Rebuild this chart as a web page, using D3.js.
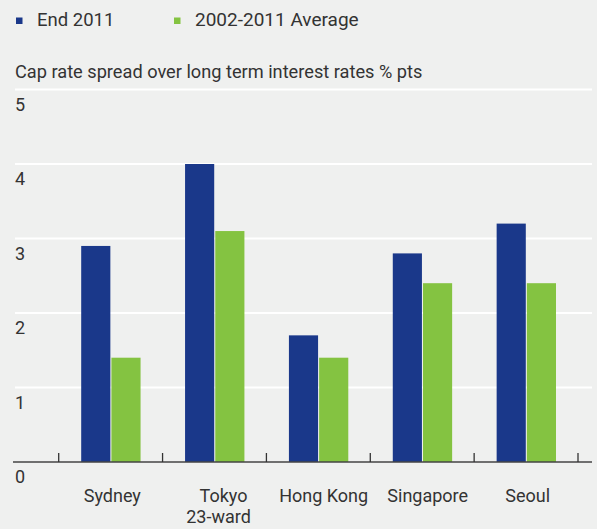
<!DOCTYPE html>
<html>
<head>
<meta charset="utf-8">
<script src="https://cdn.jsdelivr.net/npm/d3@7"></script>
<style>
  html, body { margin: 0; padding: 0; background: #eff0ef; }
  svg { display: block; }
  text { font-family: Roboto, "DejaVu Sans", sans-serif; fill: #333; }
</style>
</head>
<body>
<svg id="chart" width="597" height="529"></svg>
<script>
// Cap rate spread over long term interest rates, % pts
const cities = ["Sydney", "Tokyo\n23-ward", "Hong Kong", "Singapore", "Seoul"];
const end2011 = [2.9, 4.0, 1.7, 2.8, 3.2];
const avg2002to2011 = [1.4, 3.1, 1.4, 2.4, 2.4];
const seriesNames = ["End 2011", "2002-2011 Average"];
const seriesColors = ["#1a388a", "#84c341"];
const yTicks = [0, 1, 2, 3, 4, 5];

const svg = d3.select("#chart");

const left = 15, right = 592;
const y = d3.scaleLinear().domain([0, 5]).range([462, 89.5]);
const x = d3.scaleBand().domain(cities).range([58.7, 578]).paddingInner(0).paddingOuter(0);
const inner = d3.scaleBand().domain([0, 1]).range([22.5, x.bandwidth() - 22]).paddingInner(0.035);

// Legend
const legend = svg.append("g");
[0, 1].forEach(i => {
  const lx = [16, 174][i];
  legend.append("rect").attr("x", lx).attr("y", 17.5).attr("width", 6.5).attr("height", 6.5)
    .attr("fill", seriesColors[i]);
  legend.append("text").attr("x", lx + 21).attr("y", 26)
    .style("font-size", i === 0 ? "18.5px" : "19px").text(seriesNames[i]);
});

// Axis title
svg.append("text").attr("x", left).attr("y", 78)
  .style("font-size", "18.2px")
  .text("Cap rate spread over long term interest rates % pts");

// Horizontal gridlines; each value label sits just below its line
const grid = svg.append("g");
yTicks.filter(t => t > 0).forEach(t => {
  grid.append("line").attr("x1", left).attr("x2", right)
    .attr("y1", y(t)).attr("y2", y(t))
    .attr("stroke", "#ffffff").attr("stroke-width", 2);
});
yTicks.forEach(t => {
  svg.append("text").attr("x", left).attr("y", y(t) + 21)
    .style("font-size", "18px").text(t);
});

// Bars
const seriesData = [end2011, avg2002to2011];
seriesData.forEach((vals, si) => {
  svg.append("g").selectAll("rect").data(cities).join("rect")
    .attr("x", d => x(d) + inner(si))
    .attr("width", inner.bandwidth())
    .attr("y", (d, i) => y(vals[i]))
    .attr("height", (d, i) => y(0) - y(vals[i]))
    .attr("fill", seriesColors[si]);
});

// Baseline with category separator ticks
svg.append("line").attr("x1", 13).attr("x2", right)
  .attr("y1", y(0)).attr("y2", y(0))
  .attr("stroke", "#444").attr("stroke-width", 1.3);
const tickPos = cities.map(c => x(c)).concat([x.range()[1]]);
svg.append("g").selectAll("line").data(tickPos).join("line")
  .attr("x1", d => d).attr("x2", d => d)
  .attr("y1", y(0) - 9).attr("y2", y(0))
  .attr("stroke", "#333").attr("stroke-width", 1.3);

// Category labels, nudged slightly right of each band centre (per line)
const labelNudge = [[1.7], [9, 4], [5.3], [5.5], [1.6]];
cities.forEach((c, ci) => {
  const mid = x(c) + x.bandwidth() / 2;
  const t = svg.append("text")
    .attr("y", 501.5)
    .attr("text-anchor", "middle")
    .style("font-size", "18px");
  c.split("\n").forEach((ln, k) => {
    t.append("tspan").attr("x", mid + labelNudge[ci][k]).attr("dy", k === 0 ? 0 : 21.5).text(ln);
  });
});
</script>
</body>
</html>
